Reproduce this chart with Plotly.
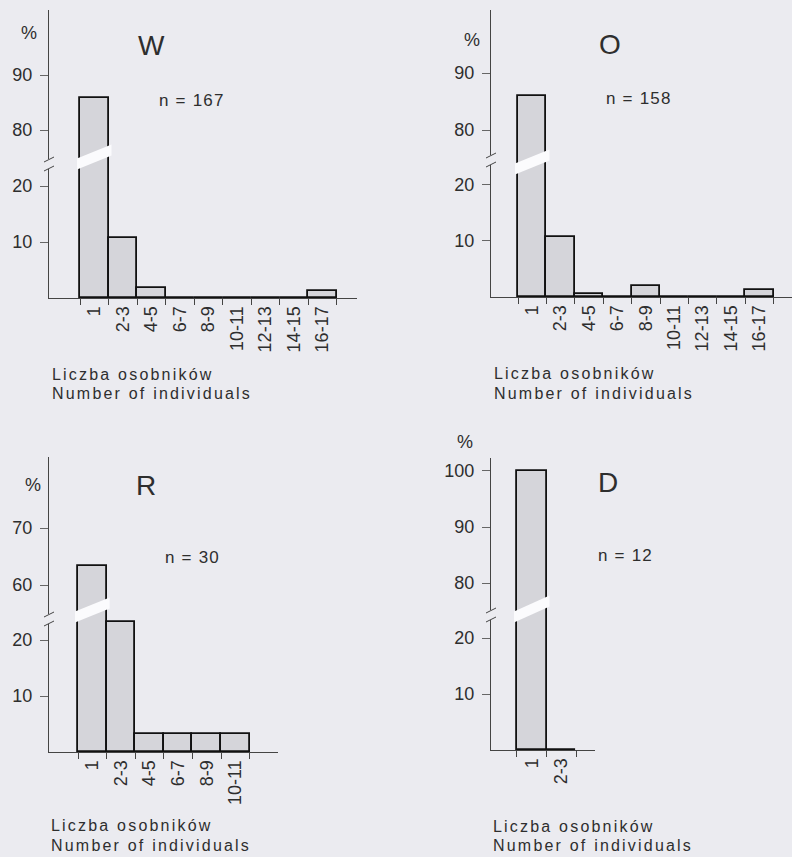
import plotly.graph_objects as go

# ---------------- data ----------------
W_CATEGORIES = ["1", "2-3", "4-5", "6-7", "8-9", "10-11", "12-13", "14-15", "16-17"]
W_VALUES = [85.8, 10.8, 1.8, 0, 0, 0, 0, 0, 1.2]

O_CATEGORIES = ["1", "2-3", "4-5", "6-7", "8-9", "10-11", "12-13", "14-15", "16-17"]
O_VALUES = [85.9, 10.8, 0.6, 0, 1.9, 0, 0, 0, 1.3]

R_CATEGORIES = ["1", "2-3", "4-5", "6-7", "8-9", "10-11"]
R_VALUES = [63.3, 23.3, 3.3, 3.3, 3.3, 3.3]

D_CATEGORIES = ["1", "2-3"]
D_VALUES = [100, 0]

PANEL_LETTERS = ["W", "O", "R", "D"]
N_LABELS = ["n = 167", "n = 158", "n = 30", "n = 12"]
LOWER_TICKS = [[10, 20], [10, 20], [10, 20], [10, 20]]
UPPER_TICKS = [[80, 90], [80, 90], [60, 70], [80, 90, 100]]
TITLE_PL = "Liczba osobników"
TITLE_EN = "Number of individuals"

# ---------------- layout / style ----------------
FW, FH = 792, 857
BG = "#ebebf0"
BAR_FILL = "#d5d5da"
TXT = "#2e2e2e"
AXC = "#444444"
FONT = "Liberation Sans, Arial, Helvetica, sans-serif"

panels = [
    dict(cats=W_CATEGORIES, vals=W_VALUES, x0=49, x1=357, base=298, brk=164, top=10,
         lr=[0, 23.93], ur=[73.82, 101.82], xr=[-1.588, 9.219],
         bandL=164, bandR=150, pct=(29, 33), let=(151, 45), nl=(192, 100),
         tx=50, ty=(374, 394)),
    dict(cats=O_CATEGORIES, vals=O_VALUES, x0=491, x1=792, base=297, brk=160, top=10,
         lr=[0, 24.46], ur=[74.74, 101.05], xr=[-1.451, 9.148],
         bandL=169, bandR=155, pct=(472, 40), let=(610, 44), nl=(639, 99),
         tx=492, ty=(373, 393)),
    dict(cats=R_CATEGORIES, vals=R_VALUES, x0=49, x1=278, base=752, brk=619, top=457,
         lr=[0, 23.75], ur=[54.04, 82.46], xr=[-1.514, 6.493],
         bandL=617, bandR=603, pct=(33, 485), let=(146, 485), nl=(192, 557),
         tx=49, ty=(825, 845)),
    dict(cats=D_CATEGORIES, vals=D_VALUES, x0=491, x1=595, base=750, brk=615, top=458,
         lr=[0, 24.11], ur=[74.29, 102.32], xr=[-1.381, 2.144],
         bandL=617, bandR=601, pct=(465, 442), let=(608, 482), nl=(625, 555),
         tx=491, ty=(826, 845)),
]


def px(x):
    return x / FW


def py(y):
    return 1 - y / FH


fig = go.Figure()
layout = dict(
    width=FW, height=FH, autosize=False,
    margin=dict(l=0, r=0, t=0, b=0, pad=0),
    paper_bgcolor=BG, plot_bgcolor=BG,
    showlegend=False, bargap=0,
    font=dict(family=FONT, color=TXT, size=17),
)
shapes = []
annotations = []

for i, p in enumerate(panels):
    xa = f"x{i + 1}" if i else "x"
    yl = f"y{2 * i + 1}" if i else "y"
    yu = f"y{2 * i + 2}"
    bar_style = dict(marker=dict(color=BAR_FILL, line=dict(color="#111111", width=1.8)),
                     hoverinfo="skip")
    fig.add_trace(go.Bar(x=p["cats"], y=p["vals"], xaxis=xa, yaxis=yl, **bar_style))
    fig.add_trace(go.Bar(x=p["cats"], y=p["vals"], xaxis=xa, yaxis=yu, **bar_style))

    xkey = "xaxis" + (str(i + 1) if i else "")
    ylkey = "yaxis" + (str(2 * i + 1) if i else "")
    yukey = "yaxis" + str(2 * i + 2)

    layout[xkey] = dict(
        domain=[px(p["x0"]), px(p["x1"])], anchor=yl, type="category",
        categoryorder="array", categoryarray=p["cats"], range=p["xr"],
        tickson="boundaries", ticks="outside", ticklen=6, tickwidth=1, tickcolor=AXC,
        showline=True, linecolor=AXC, linewidth=1.3, tickangle=-90,
        tickfont=dict(family=FONT, size=18, color=TXT),
        showgrid=False, zeroline=False, fixedrange=True,
    )
    common_y = dict(
        anchor=xa, ticks="outside", ticklen=8, tickwidth=1, tickcolor="#666666",
        showline=True, linecolor=AXC, linewidth=1.1, showgrid=False, zeroline=False,
        tickfont=dict(family=FONT, size=18, color=TXT), ticklabelstandoff=4,
        fixedrange=True,
    )
    layout[ylkey] = dict(domain=[py(p["base"]), py(p["brk"])], range=p["lr"],
                         tickvals=LOWER_TICKS[i], **common_y)
    layout[yukey] = dict(domain=[py(p["brk"]), py(p["top"])], range=p["ur"],
                         tickvals=UPPER_TICKS[i], **common_y)

    # --- broken-bar band across the first bar ---
    span = p["xr"][1] - p["xr"][0]
    bw = (p["x1"] - p["x0"]) / span
    bl = p["x0"] + (-0.5 - p["xr"][0]) * bw - 3
    br = bl + bw + 6
    h = 5.5
    path = (f"M {px(bl)},{py(p['bandL'] - h)} L {px(br)},{py(p['bandR'] - h)} "
            f"L {px(br)},{py(p['bandR'] + h)} L {px(bl)},{py(p['bandL'] + h)} Z")
    shapes.append(dict(type="path", xref="paper", yref="paper", path=path,
                       fillcolor="#fbfbfd", line=dict(width=0), layer="above"))

    # --- axis break marks ---
    ax0 = p["x0"]
    b = p["brk"]
    shapes.append(dict(type="rect", xref="paper", yref="paper",
                       x0=px(ax0 - 3), x1=px(ax0 + 3), y0=py(b - 5), y1=py(b + 5),
                       fillcolor=BG, line=dict(width=0), layer="above"))
    for off in (-4.5, 4.5):
        shapes.append(dict(type="line", xref="paper", yref="paper",
                           x0=px(ax0 - 5), y0=py(b + off + 2.5),
                           x1=px(ax0 + 5), y1=py(b + off - 2.5),
                           line=dict(color=AXC, width=1), layer="above"))

    # --- texts ---
    annotations.append(dict(text="%", x=px(p["pct"][0]), y=py(p["pct"][1]),
                            xref="paper", yref="paper", showarrow=False,
                            xanchor="center", yanchor="middle",
                            font=dict(family=FONT, size=18, color=TXT)))
    annotations.append(dict(text=PANEL_LETTERS[i], x=px(p["let"][0]), y=py(p["let"][1]),
                            xref="paper", yref="paper", showarrow=False,
                            xanchor="center", yanchor="middle",
                            font=dict(family=FONT, size=28, color=TXT)))
    annotations.append(dict(text=f'<span style="letter-spacing:1.2px">{N_LABELS[i]}</span>',
                            x=px(p["nl"][0]), y=py(p["nl"][1]),
                            xref="paper", yref="paper", showarrow=False,
                            xanchor="center", yanchor="middle",
                            font=dict(family=FONT, size=17, color=TXT)))
    for t, yy in zip((TITLE_PL, TITLE_EN), p["ty"]):
        annotations.append(dict(text=f'<span style="letter-spacing:2.2px">{t}</span>',
                                x=px(p["tx"]), y=py(yy),
                                xref="paper", yref="paper", showarrow=False,
                                xanchor="left", yanchor="middle",
                                font=dict(family=FONT, size=16, color=TXT)))

layout["shapes"] = shapes
layout["annotations"] = annotations
fig.update_layout(**layout)

fig.write_html(
    "out.html",
    config=dict(displayModeBar=False),
    post_script="document.body.style.margin='0px';document.body.style.overflow='hidden';",
)
